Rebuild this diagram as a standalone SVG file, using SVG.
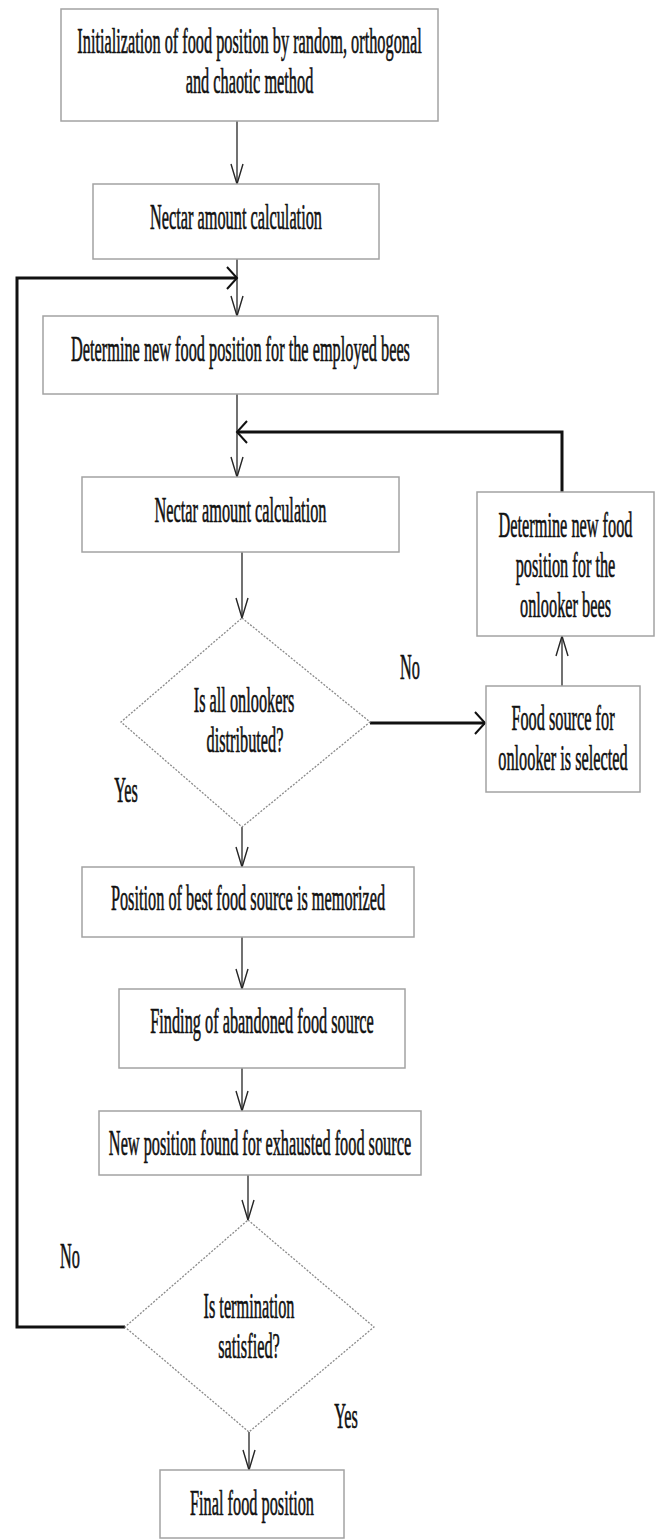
<svg xmlns="http://www.w3.org/2000/svg" width="657" height="1539" viewBox="0 0 657 1539">
  <style>
    .box { fill: #ffffff; stroke: #a3a3a3; stroke-width: 1.5; }
    .dia { fill: #ffffff; stroke: #8a8a8a; stroke-width: 1.3; stroke-dasharray: 2 1.5; }
    .t { font-family: "Liberation Serif", "Times New Roman", serif; font-size: 16.3px; fill: #111111; stroke: #111111; stroke-width: 0.3; text-anchor: middle; }
    .thin { fill: none; stroke: #262626; stroke-width: 1.3; }
    .thick { fill: none; stroke: #111111; stroke-width: 3; }
  </style>
  <defs>
    <!-- long narrow chevron for the vertical flow arrows -->
    <marker id="ahV" markerUnits="userSpaceOnUse" markerWidth="26" markerHeight="18" viewBox="-23 -9 26 18" refX="0" refY="0" orient="auto" overflow="visible">
      <path d="M-20,-6 L0,0 L-20,6" fill="none" stroke="#262626" stroke-width="1.4"/>
    </marker>
    <!-- short wide chevron for the heavy horizontal arrows -->
    <marker id="ahH" markerUnits="userSpaceOnUse" markerWidth="16" markerHeight="28" viewBox="-13 -14 16 28" refX="0" refY="0" orient="auto" overflow="visible">
      <path d="M-10,-11 L0,0 L-10,11" fill="none" stroke="#111111" stroke-width="2"/>
    </marker>
  </defs>

  <rect width="657" height="1539" fill="#ffffff"/>

  <g id="connectors">
    <line class="thin" x1="237" y1="121" x2="237" y2="184" marker-end="url(#ahV)"/>
    <line class="thin" x1="237" y1="259" x2="237" y2="316" marker-end="url(#ahV)"/>
    <line class="thin" x1="237" y1="394" x2="237" y2="477" marker-end="url(#ahV)"/>
    <line class="thin" x1="242" y1="552" x2="242" y2="618" marker-end="url(#ahV)"/>
    <line class="thin" x1="242" y1="827" x2="242" y2="867" marker-end="url(#ahV)"/>
    <line class="thin" x1="242" y1="937" x2="242" y2="989" marker-end="url(#ahV)"/>
    <line class="thin" x1="242" y1="1068" x2="242" y2="1111" marker-end="url(#ahV)"/>
    <line class="thin" x1="248" y1="1175" x2="248" y2="1220" marker-end="url(#ahV)"/>
    <line class="thin" x1="249" y1="1432" x2="249" y2="1470" marker-end="url(#ahV)"/>
    <!-- food source selected -> onlooker bees -->
    <line class="thin" x1="562" y1="686" x2="562" y2="636" marker-end="url(#ahV)"/>
    <!-- "No" branch of the onlooker test -->
    <line class="thick" x1="370" y1="723" x2="485" y2="723" marker-end="url(#ahH)"/>
    <!-- onlooker feedback loop -->
    <polyline class="thick" points="562,492 562,432 237,432" marker-end="url(#ahH)"/>
    <!-- main iteration loop -->
    <polyline class="thick" points="125,1327 17,1327 17,278 237,278" marker-end="url(#ahH)"/>
  </g>

  <g id="n-init">
    <rect class="box" x="61" y="9" width="377" height="112"/>
    <text class="t" transform="matrix(1 0 0 2.2 249.5 53)">Initialization of food position by random, orthogonal</text>
    <text class="t" transform="matrix(1 0 0 2.2 249.5 93)">and chaotic method</text>
  </g>

  <g id="n-nectar1">
    <rect class="box" x="93" y="184" width="286" height="75"/>
    <text class="t" transform="matrix(1 0 0 2.2 236 229)">Nectar amount calculation</text>
  </g>

  <g id="n-employed">
    <rect class="box" x="43" y="316" width="395" height="78"/>
    <text class="t" transform="matrix(1 0 0 2.2 240.5 361)">Determine new food position for the employed bees</text>
  </g>

  <g id="n-nectar2">
    <rect class="box" x="82" y="477" width="317" height="75"/>
    <text class="t" transform="matrix(1 0 0 2.2 240.5 522)">Nectar amount calculation</text>
  </g>

  <g id="n-onlooker-pos">
    <rect class="box" x="477" y="492" width="177" height="144"/>
    <text class="t" transform="matrix(1 0 0 2.2 565.5 537)">Determine new food</text>
    <text class="t" transform="matrix(1 0 0 2.2 565.5 577)">position for the</text>
    <text class="t" transform="matrix(1 0 0 2.2 565.5 617)">onlooker bees</text>
  </g>

  <g id="n-onlookers-test">
    <polygon class="dia" points="242,618 370,722 242,827 121,722"/>
    <text class="t" transform="matrix(1 0 0 2.2 244 712)">Is all onlookers</text>
    <text class="t" transform="matrix(1 0 0 2.2 245 752)">distributed?</text>
    <text class="t" transform="matrix(1 0 0 2.2 410 679)">No</text>
    <text class="t" transform="matrix(1 0 0 2.2 126 802)">Yes</text>
  </g>

  <g id="n-source-selected">
    <rect class="box" x="486" y="686" width="154" height="106"/>
    <text class="t" transform="matrix(1 0 0 2.2 563 730)">Food source for</text>
    <text class="t" transform="matrix(1 0 0 2.2 563 770)">onlooker is selected</text>
  </g>

  <g id="n-memorize">
    <rect class="box" x="82" y="867" width="332" height="70"/>
    <text class="t" transform="matrix(1 0 0 2.2 248 910)">Position of best food source is memorized</text>
  </g>

  <g id="n-abandoned">
    <rect class="box" x="119" y="989" width="286" height="79"/>
    <text class="t" transform="matrix(1 0 0 2.2 262 1033)">Finding of abandoned food source</text>
  </g>

  <g id="n-exhausted">
    <rect class="box" x="99" y="1111" width="322" height="64"/>
    <text class="t" transform="matrix(1 0 0 2.2 260 1155)">New position found for exhausted food source</text>
  </g>

  <g id="n-termination">
    <polygon class="dia" points="248,1220 374,1327 249,1432 125,1327"/>
    <text class="t" transform="matrix(1 0 0 2.2 249 1318)">Is termination</text>
    <text class="t" transform="matrix(1 0 0 2.2 249 1358)">satisfied?</text>
    <text class="t" transform="matrix(1 0 0 2.2 70 1268)">No</text>
    <text class="t" transform="matrix(1 0 0 2.2 346 1428)">Yes</text>
  </g>

  <g id="n-final">
    <rect class="box" x="160" y="1470" width="184" height="68"/>
    <text class="t" transform="matrix(1 0 0 2.2 252 1515)">Final food position</text>
  </g>
</svg>
